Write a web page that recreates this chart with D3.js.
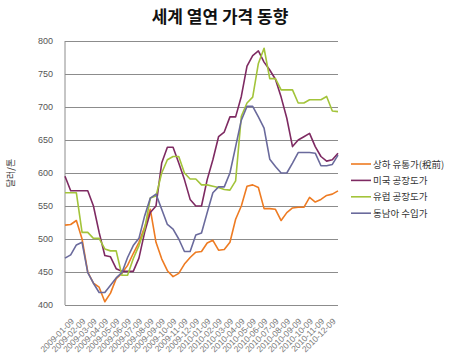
<!DOCTYPE html>
<html><head><meta charset="utf-8">
<script src="https://cdn.jsdelivr.net/npm/d3@7/dist/d3.min.js"></script>
<style>body{margin:0;background:#fff}svg{display:block}</style>
</head><body><svg id="c" width="450" height="358"></svg>
<script>
const title = "세계 열연 가격 동향";
const yTitle = "달러/톤";
const dateLabels = ["2009-01-09","2009-02-09","2009-03-09","2009-04-09","2009-05-09","2009-06-09",
  "2009-07-09","2009-08-09","2009-09-09","2009-10-09","2009-11-09","2009-12-09",
  "2010-01-09","2010-02-09","2010-03-09","2010-04-09","2010-05-09","2010-06-09",
  "2010-07-09","2010-08-09","2010-09-09","2010-10-09","2010-11-09","2010-12-09"];
const seriesNames = ["상하 유통가(稅前)","미국 공장도가","유럽 공장도가","동남아 수입가"];
const yTicks = [400,450,500,550,600,650,700,750,800];
// half-month samples, 2009-01 .. 2010-12
const shanghai = [521,522,528,500,450,433,427,405,418,440,448,460,478,495,518,545,495,470,452,443,448,462,472,480,481,494,498,483,484,495,530,550,580,582,578,546,546,545,528,540,547,548,548,563,556,560,566,568,573];
const usa = [595,573,573,573,573,550,510,475,473,455,451,451,451,471,510,540,550,615,639,639,615,590,560,550,550,590,620,655,662,685,685,716,762,778,785,768,756,742,715,683,640,650,655,660,640,625,618,620,630];
const europe = [570,570,570,510,510,501,501,485,482,482,445,445,470,490,515,562,565,600,620,625,625,600,591,591,582,582,580,578,575,574,588,686,706,715,766,789,743,743,726,726,726,706,706,711,711,711,716,694,693];
const seAsia = [471,476,491,495,449,433,419,419,430,441,449,472,490,501,535,562,568,545,522,515,500,481,481,506,509,540,570,579,579,600,640,680,701,701,685,668,621,610,600,600,615,631,631,631,630,611,611,613,627];
const colors = ["#EE7B22","#7E2A62","#A3C43A","#6A6A9C"];

const svg = d3.select("#c");
const L = 65, R = 338, T = 41, B = 305;
const x = d3.scaleLinear().domain([0, shanghai.length - 1]).range([L, R]);
const xb = d3.scaleBand().domain(dateLabels).range([L, R]);
const y = d3.scaleLinear().domain([400, 800]).range([B, T]);

// title
svg.append("text").attr("x", 220).attr("y", 23).attr("text-anchor", "middle")
  .attr("font-family", "'Noto Sans CJK KR'").attr("font-weight", "bold").attr("font-size", 17)
  .attr("fill", "#111").text(title);

// gridlines
svg.append("g").attr("transform", `translate(${L},0)`)
  .call(d3.axisLeft(y).tickValues(yTicks).tickSize(-(R - L)).tickFormat(""))
  .call(g => g.select(".domain").remove())
  .call(g => g.selectAll("line").attr("stroke", "#8c8c8c"));

// y labels
svg.append("g").attr("transform", `translate(${L},0)`)
  .call(d3.axisLeft(y).tickValues(yTicks).tickSize(0).tickPadding(12))
  .call(g => g.select(".domain").remove())
  .call(g => g.selectAll("text").attr("font-family", "'Liberation Sans', Arial").attr("font-size", 9).attr("fill", "#555"));

// left axis line
svg.append("line").attr("x1", L).attr("x2", L).attr("y1", T).attr("y2", B).attr("stroke", "#8c8c8c");

// x labels
svg.append("g").attr("transform", `translate(0,${B})`)
  .call(d3.axisBottom(xb).tickSize(0).tickPadding(0))
  .call(g => g.select(".domain").remove())
  .call(g => g.selectAll("text")
    .attr("font-family", "'Liberation Sans', Arial").attr("font-size", 8.5).attr("fill", "#777")
    .attr("text-anchor", "end").attr("dy", 0)
    .attr("transform", "translate(4,17) rotate(-45)"));

// y title
svg.append("text").attr("transform", "translate(14,173) rotate(-90)").attr("text-anchor", "middle")
  .attr("font-family", "'Noto Sans CJK KR'").attr("font-size", 9).attr("fill", "#333").text(yTitle);

// lines
const data = [shanghai, usa, europe, seAsia];
const line = d3.line().x((d, i) => x(i)).y(d => y(d));
data.forEach((s, k) => {
  svg.append("path").datum(s).attr("d", line).attr("fill", "none")
    .attr("stroke", colors[k]).attr("stroke-width", 1.6).attr("stroke-linejoin", "round");
});

// legend
const lg = svg.append("g");
seriesNames.forEach((n, k) => {
  const yy = 164 + k * 16.4;
  lg.append("line").attr("x1", 351).attr("x2", 371).attr("y1", yy).attr("y2", yy)
    .attr("stroke", colors[k]).attr("stroke-width", 1.6);
  lg.append("text").attr("x", 373).attr("y", yy + 3.5)
    .attr("font-family", "'Noto Sans CJK KR'").attr("font-size", 9.5).attr("fill", "#333").text(n);
});
</script></body></html>
